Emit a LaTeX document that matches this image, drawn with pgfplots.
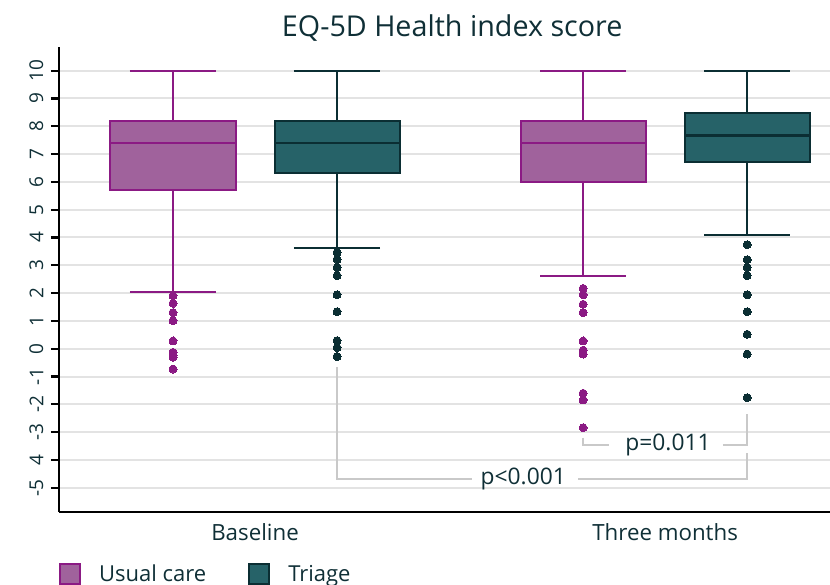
\documentclass[border=0pt]{standalone}
\usepackage{pgfplots}
\pgfplotsset{compat=1.18}
\usepgfplotslibrary{statistics}
\usepackage{fontspec}
\setmainfont{Open Sans}
\definecolor{ucfill}{HTML}{A0629C}
\definecolor{ucedge}{HTML}{8B1A84}
\definecolor{trfill}{HTML}{266268}
\definecolor{tredge}{HTML}{0B2E33}
\definecolor{textc}{HTML}{0F2F36}
\definecolor{gridc}{HTML}{E3E3E3}
\definecolor{brk}{HTML}{C9C9C9}
\newcommand\yl[1]{\hbox{\fontsize{19}{22}\selectfont #1}}
\begin{document}
\begin{tikzpicture}
\begin{axis}[
  at={(0,0)}, anchor=south west, scale only axis,
  width=771pt, height=465pt,
  xmin=0.522, xmax=2.402, ymin=-5.87, ymax=10.85,
  axis x line=bottom, axis y line=left,
  axis line style={-, line width=2.5pt, black},
  xtick={1,2}, xticklabels={Baseline, Three months},
  x tick style={draw=none},
  ytick={-5,-4,...,10},
  yticklabels={\yl{-5},\yl{4},\yl{-3},\yl{-2},\yl{-1},\yl{0},\yl{1},\yl{2},\yl{3},\yl{4},\yl{5},\yl{6},\yl{7},\yl{8},\yl{9},\yl{10}},
  y tick style={line width=2.2pt, black},
  tick align=outside, major tick length=8pt,
  ymajorgrids, grid style={line width=2pt, gridc},
  tick label style={text=textc},
  every y tick label/.append style={rotate=90, anchor=south, inner ysep=7.5pt},
  every x tick label/.append style={font=\fontsize{22.3}{26}\selectfont},
  title={EQ-5D Health index score},
  title style={font=\fontsize{28.7}{34}\selectfont, text=textc, at={(0.51,1)}, anchor=south, yshift=-4pt},
  legend style={at={(0,-0.110)}, anchor=north west, draw=none, fill=none,
    font=\fontsize{22}{26}\selectfont, text=textc, inner sep=0pt,
    nodes={inner sep=0pt},
    /tikz/every odd column/.append style={column sep=18pt},
    /tikz/every even column/.append style={column sep=42pt}},
  legend columns=2,
  legend image code/.code={\draw[#1, line width=2pt] (0pt,-10pt) rectangle (20pt,10pt);},
  boxplot/draw direction=y,
  boxplot/box extend=0.305,
  boxplot/whisker extend=0.21,
  boxplot/every median/.style={line width=2.8pt},
]
% brackets
\addplot[brk, line width=2pt, forget plot] coordinates {(1.8,-3.20) (1.8,-3.47) (1.863,-3.47)};
\addplot[brk, line width=2pt, forget plot] coordinates {(2.141,-3.47) (2.2,-3.47) (2.2,-2.34)};
\addplot[brk, line width=2pt, forget plot] coordinates {(1.2,-0.65) (1.2,-4.69) (1.529,-4.69)};
\addplot[brk, line width=2pt, forget plot] coordinates {(1.788,-4.69) (2.2,-4.69) (2.2,-3.74)};
\node[text=textc, font=\fontsize{22.8}{27}\selectfont] at (axis cs:2.007,-3.47) {p=0.011};
\node[text=textc, font=\fontsize{22.8}{27}\selectfont] at (axis cs:1.654,-4.69) {p<0.001};
% Baseline usual care
\addplot[forget plot, boxplot prepared={draw position=0.8, lower whisker=2.03, lower quartile=5.72, median=7.40, upper quartile=8.20, upper whisker=10},
  draw=ucedge, fill=ucfill, line width=2pt, mark=*, mark size=4pt, mark options={draw=ucedge, fill=ucedge, line width=0pt}]
  coordinates {(0,1.91) (0,1.63) (0,1.30) (0,1.01) (0,0.28) (0,-0.13) (0,-0.23) (0,-0.31) (0,-0.73)};
% Baseline triage
\addplot[forget plot, boxplot prepared={draw position=1.2, lower whisker=3.61, lower quartile=6.31, median=7.40, upper quartile=8.19, upper whisker=10},
  draw=tredge, fill=trfill, line width=2pt, mark=*, mark size=4pt, mark options={draw=tredge, fill=tredge, line width=0pt}]
  coordinates {(0,3.46) (0,3.21) (0,2.92) (0,2.63) (0,1.94) (0,1.33) (0,0.29) (0,0.04) (0,-0.28)};
% Three months usual care
\addplot[forget plot, boxplot prepared={draw position=1.8, lower whisker=2.63, lower quartile=6.00, median=7.40, upper quartile=8.20, upper whisker=10},
  draw=ucedge, fill=ucfill, line width=2pt, mark=*, mark size=4pt, mark options={draw=ucedge, fill=ucedge, line width=0pt}]
  coordinates {(0,2.17) (0,1.94) (0,1.60) (0,1.30) (0,0.28) (0,-0.05) (0,-0.19) (0,-1.60) (0,-1.84) (0,-2.84)};
% Three months triage
\addplot[forget plot, boxplot prepared={draw position=2.2, lower whisker=4.10, lower quartile=6.72, median=7.67, upper quartile=8.47, upper whisker=10},
  draw=tredge, fill=trfill, line width=2pt, mark=*, mark size=4pt, mark options={draw=tredge, fill=tredge, line width=0pt}]
  coordinates {(0,3.74) (0,3.20) (0,2.92) (0,2.63) (0,1.94) (0,1.33) (0,0.52) (0,-0.19) (0,-1.76)};
\addlegendimage{fill=ucfill, draw=ucedge}
\addlegendentry{Usual care}
\addlegendimage{fill=trfill, draw=tredge}
\addlegendentry{Triage}
\end{axis}
\pgfresetboundingbox
\path[use as bounding box] (-59pt,-73pt) rectangle (771pt,512pt);
\end{tikzpicture}
\end{document}
